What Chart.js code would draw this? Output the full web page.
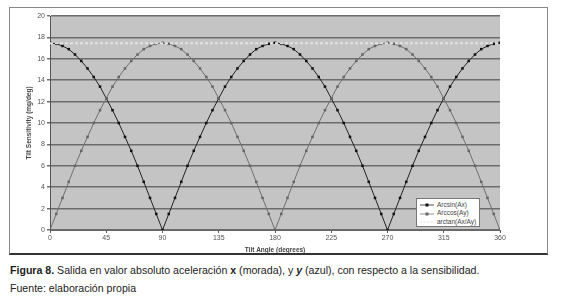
<!DOCTYPE html>
<html>
<head>
<meta charset="utf-8">
<script src="https://cdn.jsdelivr.net/npm/chart.js@4.4.0/dist/chart.umd.min.js"></script>
<style>
  body { margin: 0; background: #fff; font-family: "Liberation Sans", Arial, sans-serif; }
  #wrap { position: relative; width: 571px; height: 302px; }
  #box { position: absolute; left: 9px; top: 7px; width: 539px; height: 248px;
         border: 1px solid #888; border-bottom: 2px solid #333; box-sizing: border-box; }
  #c { position: absolute; left: 0; top: 0; }
  #legend { position: absolute; left: 416px; top: 198px; width: 64px; height: 29px;
            background: #fff; border: 1px solid #777; box-sizing: border-box;
            font-size: 6.5px; color: #444; padding: 2px 0 0 3px; line-height: 8.3px; }
  #legend div { white-space: nowrap; }
  .sw { display: inline-block; width: 14px; height: 4px; vertical-align: middle; margin-right: 3px; position: relative; }
  .cap { position: absolute; left: 10px; font-size: 10.6px; color: #222; white-space: nowrap; }
</style>
</head>
<body>
<div id="wrap">
  <div id="box"></div>
  <canvas id="c" width="571" height="260"></canvas>
  <div id="legend">
    <div><svg class="sw" viewBox="0 0 14 4"><line x1="0" y1="2" x2="14" y2="2" stroke="#222" stroke-width="0.8"/><rect x="5.5" y="0.5" width="3" height="3" fill="#111"/></svg>Arcsin(Ax)</div>
    <div><svg class="sw" viewBox="0 0 14 4"><line x1="0" y1="2" x2="14" y2="2" stroke="#777" stroke-width="0.8"/><rect x="5.5" y="0.5" width="3" height="3" fill="#666"/></svg>Arccos(Ay)</div>
    <div><svg class="sw" viewBox="0 0 14 4"><line x1="0" y1="2" x2="14" y2="2" stroke="#ddd" stroke-width="1.2" stroke-dasharray="2,1.5"/></svg>arctan(Ax/Ay)</div>
  </div>
  <div class="cap" style="top:264px"><b>Figura 8.</b> Salida en valor absoluto aceleración <b>x</b> (morada), y <b><i>y</i></b> (azul), con respecto a la sensibilidad.</div>
  <div class="cap" style="top:282px">Fuente: elaboración propia</div>
</div>
<script>
// tilt angle (degrees), one point every 5 degrees
const angles = [0,5,10,15,20,25,30,35,40,45,50,55,60,65,70,75,80,85,90,
  95,100,105,110,115,120,125,130,135,140,145,150,155,160,165,170,175,180,
  185,190,195,200,205,210,215,220,225,230,235,240,245,250,255,260,265,270,
  275,280,285,290,295,300,305,310,315,320,325,330,335,340,345,350,355,360];

// Arcsin(Ax) - black
const arcsinAx = [17.5,17.4,17.2,16.9,16.4,15.8,15.1,14.3,13.4,12.3,11.2,10.0,8.7,7.4,6.0,4.5,3.0,1.5,0.0,
  1.5,3.0,4.5,6.0,7.4,8.7,10.0,11.2,12.3,13.4,14.3,15.1,15.8,16.4,16.9,17.2,17.4,17.5,
  17.4,17.2,16.9,16.4,15.8,15.1,14.3,13.4,12.3,11.2,10.0,8.7,7.4,6.0,4.5,3.0,1.5,0.0,
  1.5,3.0,4.5,6.0,7.4,8.7,10.0,11.2,12.3,13.4,14.3,15.1,15.8,16.4,16.9,17.2,17.4,17.5];

// Arccos(Ay) - gray
const arccosAy = [0.0,1.5,3.0,4.5,6.0,7.4,8.7,10.0,11.2,12.3,13.4,14.3,15.1,15.8,16.4,16.9,17.2,17.4,17.5,
  17.4,17.2,16.9,16.4,15.8,15.1,14.3,13.4,12.3,11.2,10.0,8.7,7.4,6.0,4.5,3.0,1.5,0.0,
  1.5,3.0,4.5,6.0,7.4,8.7,10.0,11.2,12.3,13.4,14.3,15.1,15.8,16.4,16.9,17.2,17.4,17.5,
  17.4,17.2,16.9,16.4,15.8,15.1,14.3,13.4,12.3,11.2,10.0,8.7,7.4,6.0,4.5,3.0,1.5,0.0];

// arctan(Ax/Ay) - constant
const arctanAxAy = [[0, 17.45], [360, 17.45]];

const xTicks = [0, 45, 90, 135, 180, 225, 270, 315, 360];

const toPoints = (vals) => vals.map((v, i) => ({ x: angles[i], y: v }));

// gray plot area
const plotBg = {
  id: 'plotBg',
  beforeDraw(chart) {
    const a = chart.chartArea;
    const ctx = chart.ctx;
    ctx.save();
    ctx.fillStyle = '#c4c4c4';
    ctx.fillRect(a.left, a.top, a.right - a.left, a.bottom - a.top);
    ctx.restore();
  }
};

new Chart(document.getElementById('c'), {
  type: 'line',
  data: {
    datasets: [
      {
        label: 'arctan(Ax/Ay)',
        data: arctanAxAy.map(p => ({ x: p[0], y: p[1] })),
        borderColor: '#e2e2e2',
        borderWidth: 2,
        borderDash: [3, 2],
        pointRadius: 0
      },
      {
        label: 'Arccos(Ay)',
        data: toPoints(arccosAy),
        borderColor: '#707070',
        borderWidth: 1,
        pointStyle: 'rect',
        pointRadius: 1.8,
        pointBackgroundColor: '#666',
        pointBorderWidth: 0
      },
      {
        label: 'Arcsin(Ax)',
        data: toPoints(arcsinAx),
        borderColor: '#222',
        borderWidth: 1,
        pointStyle: 'rect',
        pointRadius: 1.8,
        pointBackgroundColor: '#111',
        pointBorderWidth: 0
      }
    ]
  },
  options: {
    responsive: false,
    animation: false,
    layout: { padding: { left: 25, right: 71, top: 16, bottom: 6 } },
    plugins: { legend: { display: false }, tooltip: { enabled: false } },
    elements: { line: { tension: 0 } },
    scales: {
      x: {
        type: 'linear',
        min: 0, max: 360,
        afterBuildTicks: (s) => { s.ticks = xTicks.map(v => ({ value: v })); },
        afterFit: (s) => { s.height = 24; },
        grid: { drawOnChartArea: false, drawTicks: true, tickLength: 3, color: '#555' },
        border: { color: '#666' },
        ticks: { font: { size: 7, family: 'Liberation Sans' }, color: '#555', padding: 1, maxRotation: 0 },
        title: { display: true, text: 'Tilt Angle (degrees)', font: { size: 6.5, weight: 'bold', family: 'Liberation Sans' }, color: '#444', padding: { top: 0, bottom: 0 } }
      },
      y: {
        min: 0, max: 20,
        afterFit: (s) => { s.width = 25; },
        grid: { color: '#6c6c6c', lineWidth: 1.5, drawTicks: true, tickLength: 3 },
        border: { color: '#555' },
        ticks: { stepSize: 2, font: { size: 7, family: 'Liberation Sans' }, color: '#555', padding: 2 },
        title: { display: true, text: 'Tilt Sensitivity (mg/deg)', font: { size: 6.5, weight: 'bold', family: 'Liberation Sans' }, color: '#444', padding: { top: 0, bottom: 0 } }
      }
    }
  },
  plugins: [plotBg]
});
</script>
</body>
</html>
